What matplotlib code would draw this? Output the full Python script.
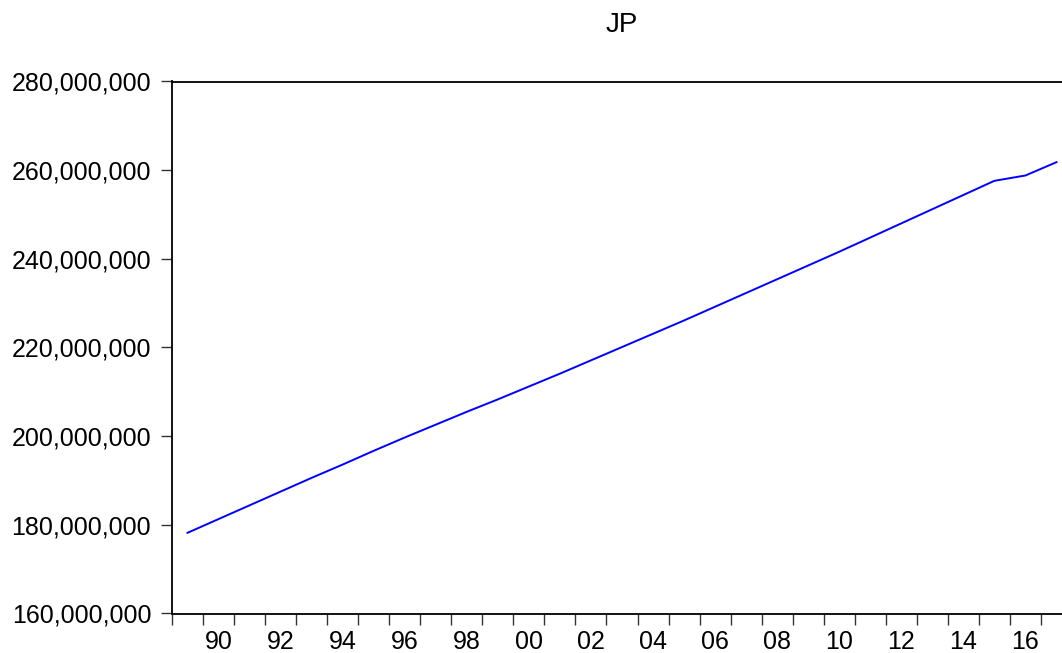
import matplotlib
matplotlib.use("Agg")
import matplotlib.pyplot as plt
from matplotlib.ticker import FuncFormatter, MultipleLocator, FixedLocator

plt.rcParams['font.family'] = ['Liberation Sans', 'DejaVu Sans']

years = list(range(1989, 2018))
jp = [178.2, 181.3, 184.4, 187.5, 190.6, 193.6, 196.7, 199.7, 202.6, 205.5,
      208.3, 211.2, 214.1, 217.1, 220.1, 223.1, 226.1, 229.2, 232.3, 235.4,
      238.5, 241.6, 244.8, 248.0, 251.2, 254.4, 257.6, 258.8, 261.8]
jp = [v * 1e6 for v in jp]

fig = plt.figure(figsize=(10.62, 6.53), dpi=100)
ax = fig.add_axes([172 / 1062, 39.5 / 653, 900 / 1062, 532 / 653])

ax.plot(years, jp, color='#0000ff', lw=1.4)

ax.set_xlim(1988.5, 2017.5)
ax.set_ylim(160e6, 280e6)

ax.yaxis.set_major_locator(MultipleLocator(20e6))
ax.yaxis.set_major_formatter(FuncFormatter(lambda v, p: '{:,.0f}'.format(v)))

ax.xaxis.set_major_locator(FixedLocator(list(range(1990, 2018, 2))))
ax.xaxis.set_major_formatter(FuncFormatter(lambda v, p: '{:02d}'.format(int(round(v)) % 100)))
ax.xaxis.set_minor_locator(FixedLocator([y + 0.5 for y in range(1988, 2018)]))

ax.tick_params(axis='x', which='major', length=0, labelsize=18, pad=12)
ax.tick_params(axis='x', which='minor', length=8, width=1, color='#333333')
ax.tick_params(axis='y', length=8, width=1, color='#333333', labelsize=18, pad=7)

for side in ['left', 'top', 'bottom']:
    ax.spines[side].set_linewidth(1.3)
    ax.spines[side].set_color('black')
ax.spines['right'].set_visible(False)

ax.set_title('JP', fontsize=20, pad=36)

fig.savefig('out.png', dpi=100)
